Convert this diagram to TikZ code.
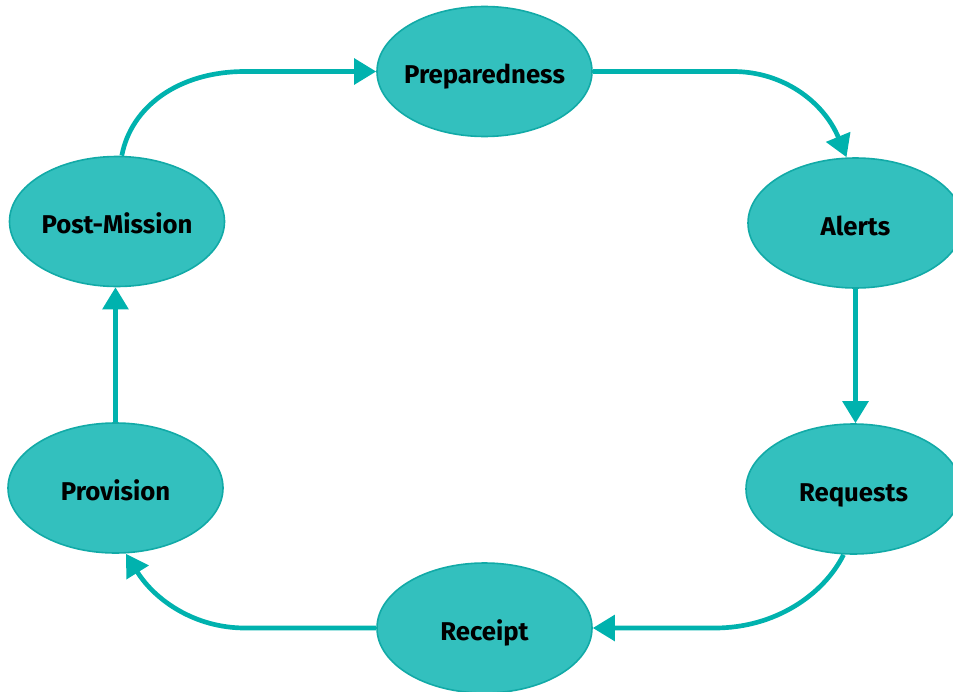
\documentclass[tikz,border=0pt]{standalone}
\usepackage{fontspec}
\setmainfont{Fira Sans}
\usetikzlibrary{shapes.geometric,arrows.meta}
\definecolor{fillteal}{RGB}{51,192,190}
\definecolor{edgeteal}{RGB}{18,170,167}
\definecolor{arrteal}{RGB}{0,178,174}
\begin{document}
\begin{tikzpicture}[x=0.75pt,y=-0.75pt,
  phase/.style={ellipse, draw=edgeteal, line width=1.2pt, fill=fillteal,
    minimum width=161.25pt, minimum height=97.5pt, inner ysep=0pt, inner xsep=-20pt,
    font=\fontsize{19.3}{22}\selectfont\bfseries, text height=18pt, text depth=0pt},
  flow/.style={draw=arrteal, line width=3.5pt, -{Triangle[length=16.5pt,width=19pt]}}]
\useasboundingbox (0,0) rectangle (953,692);
\node[phase] (prep) at (484.5,71.5) {Preparedness};
\node[phase] (alerts) at (855.5,223) {Alerts};
\node[phase] (req) at (853.5,489) {Requests};
\node[phase] (receipt) at (484.5,628) {Receipt};
\node[phase] (prov) at (115.5,488) {Provision};
\node[phase] (post) at (117,221.5) {Post-Mission};
\coordinate (c1) at (245,71.5);
\coordinate (c2) at (733,71.5);
\coordinate (c4) at (715,628);
\coordinate (c5) at (245,628);
\draw[flow] ([xshift=3.6pt]post.north) .. controls +(9,-48.5) and +(-67,0) .. (c1) -- (prep.west);
\draw[flow] (prep.east) -- (c2) .. controls +(50,0) and +(-22.8,-55.5) .. ([xshift=-6.75pt]alerts.north);
\draw[flow] (alerts.south) -- (alerts.south |- req.north);
\draw[flow] ([xshift=-7.5pt]req.south) .. controls +(-20,40) and +(60,0) .. (c4) -- (receipt.east);
\draw[flow] (receipt.west) -- (c5) .. controls +(-50,0) and +(29,46.6) .. ([xshift=7.9pt]prov.south);
\draw[flow] (prov.north) -- (prov.north |- post.south);
\end{tikzpicture}
\end{document}
